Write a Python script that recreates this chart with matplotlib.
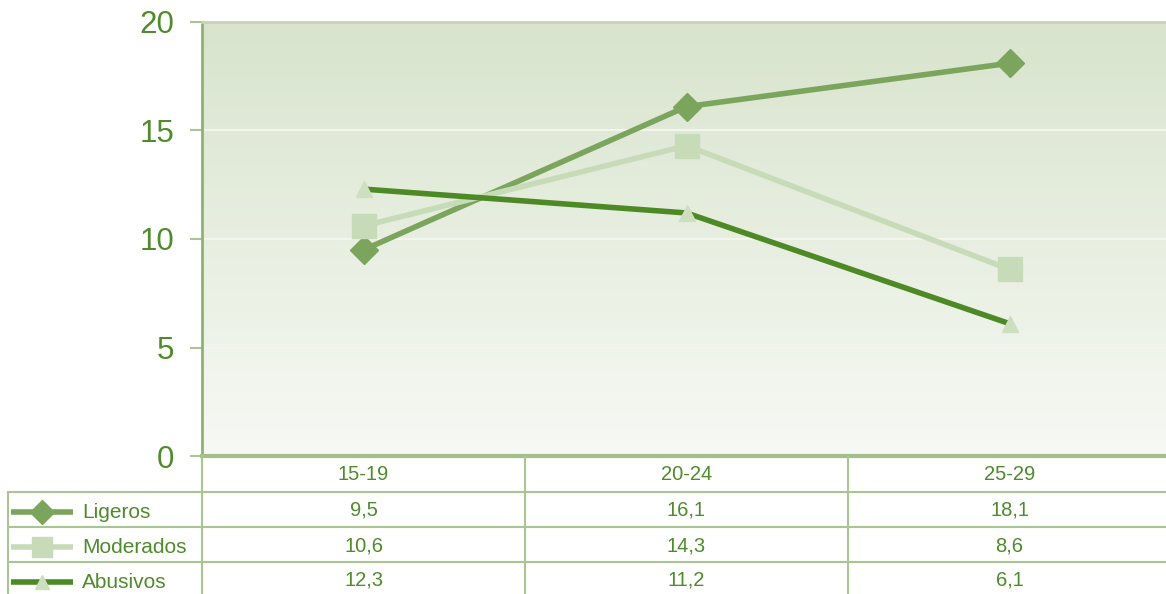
import numpy as np
import matplotlib
matplotlib.use("Agg")
import matplotlib.pyplot as plt
from matplotlib.colors import LinearSegmentedColormap

plt.rcParams["font.family"] = ["Liberation Sans", "DejaVu Sans"]

groups = ["15-19", "20-24", "25-29"]
series_names = ["Ligeros", "Moderados", "Abusivos"]
ligeros = [9.5, 16.1, 18.1]
moderados = [10.6, 14.3, 8.6]
abusivos = [12.3, 11.2, 6.1]
yticks = [0, 5, 10, 15, 20]

W, H = 1166, 594
text_green = "#4f8a2b"
grid_green = "#a9c594"

styles = [
    dict(color="#7ba55c", marker="D", ms=14.5, mfc="#7ba55c", mec="#7ba55c", lw=4),
    dict(color="#c8dbb8", marker="s", ms=17, mfc="#c8dbb8", mec="#c8dbb8", lw=4),
    dict(color="#4d8a25", marker="^", ms=12, mfc="#cddfc0", mec="#cddfc0", lw=4),
]
values = [ligeros, moderados, abusivos]

fig = plt.figure(figsize=(W / 100, H / 100), dpi=100)

# main plot area (pixel layout from the reference)
x0, x1, ytop, ybot = 202, 1171, 22, 456
ax = fig.add_axes([x0 / W, 1 - ybot / H, (x1 - x0) / W, (ybot - ytop) / H])
ax.set_xlim(-0.5, len(groups) - 0.5)
ax.set_ylim(0, 20)

cmap = LinearSegmentedColormap.from_list("bg", ["#f7f9f4", "#d8e4cd"])
grad = np.linspace(0, 1, 256).reshape(-1, 1)
ax.imshow(grad, extent=[-0.5, len(groups) - 0.5, 0, 20], origin="lower",
          aspect="auto", cmap=cmap, zorder=0)

for yv in yticks[1:-1]:
    ax.axhline(yv, color="#f1f5ed", lw=1.5, zorder=1)

xs = np.arange(len(groups))
for vals, st in zip(values, styles):
    ax.plot(xs, vals, zorder=3, solid_capstyle="butt", **st)

ax.set_xticks([])
ax.set_yticks(yticks)
ax.set_yticklabels([str(v) for v in yticks], fontsize=22.5, color=text_green)
ax.tick_params(axis="y", length=9, width=1.5, color="#a9c594", pad=11)
ax.spines["right"].set_visible(False)
ax.spines["top"].set_color("#c4d6b4")
ax.spines["top"].set_linewidth(2)
ax.spines["left"].set_color("#8db36e")
ax.spines["left"].set_linewidth(2)
ax.spines["bottom"].set_color("#a3c08a")
ax.spines["bottom"].set_linewidth(3)

# data table under the chart, drawn in pixel units
tx = fig.add_axes([0, 0, 1, 1])
tx.set_xlim(0, W)
tx.set_ylim(H, 0)
tx.axis("off")
tx.patch.set_alpha(0)

row_y = [456, 492, 527, 562, 597]
col_x = [x0 + i * (x1 - x0) / len(groups) for i in range(len(groups) + 1)]
lkw = dict(color=grid_green, lw=1.5, zorder=1)
for yv in row_y[1:4]:
    tx.plot([8, W], [yv, yv], **lkw)
tx.plot([8, 8], [row_y[1], H], **lkw)
for xv in col_x[:-1]:
    tx.plot([xv, xv], [row_y[0], H], **lkw)

for i, g in enumerate(groups):
    cx = (col_x[i] + col_x[i + 1]) / 2
    tx.text(cx, (row_y[0] + row_y[1]) / 2 + 1, g, ha="center", va="center",
            fontsize=14.5, color=text_green)
    for r, vals in enumerate(values):
        tx.text(cx, (row_y[r + 1] + row_y[r + 2]) / 2 + 1,
                f"{vals[i]:.1f}".replace(".", ","), ha="center", va="center",
                fontsize=14.5, color=text_green)

for r, (name, st) in enumerate(zip(series_names, styles)):
    cy = (row_y[r + 1] + row_y[r + 2]) / 2 + 2
    tx.plot([11, 73], [cy, cy], color=st["color"], lw=4, zorder=2,
            solid_capstyle="butt")
    tx.plot([42], [cy], marker=st["marker"], ms=st["ms"] * 0.85,
            mfc=st["mfc"], mec=st["mec"], ls="none", zorder=3)
    tx.text(82, cy + 1, name, ha="left", va="center", fontsize=15, color=text_green)

fig.savefig("out.png", dpi=100)
